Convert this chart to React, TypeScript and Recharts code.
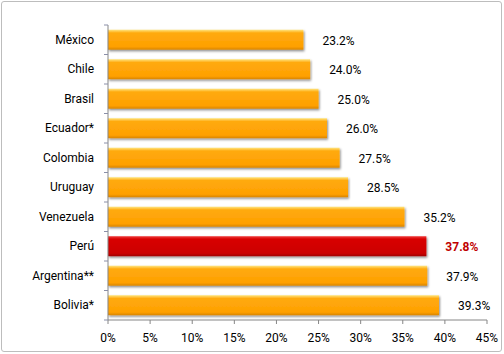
import React from "react";
import { BarChart, Bar, XAxis, YAxis, LabelList, Cell } from "recharts";

const countries = [
  "México",
  "Chile",
  "Brasil",
  "Ecuador*",
  "Colombia",
  "Uruguay",
  "Venezuela",
  "Perú",
  "Argentina**",
  "Bolivia*",
];
const rates = [23.2, 24.0, 25.0, 26.0, 27.5, 28.5, 35.2, 37.8, 37.9, 39.3];
const highlight = "Perú";
const xTicks = [0, 5, 10, 15, 20, 25, 30, 35, 40, 45];

const data = countries.map((name, i) => ({ name, value: rates[i] }));

const FONT = "'Liberation Sans Narrow', Roboto, sans-serif";
const BAND = 29.5;

const YTick = (props: any) => {
  const { x, y, payload, index } = props;
  // x here is the axis line minus the tick size; marks sit at category edges
  const ax = 108;
  return (
    <g>
      <line x1={ax - 4} x2={ax} y1={y - BAND / 2} y2={y - BAND / 2} stroke="#8a8fa8" />
      {index === countries.length - 1 && (
        <line x1={ax - 4} x2={ax} y1={y + BAND / 2} y2={y + BAND / 2} stroke="#8a8fa8" />
      )}
      <text x={x - 6} y={y} dy={4} textAnchor="end" fontSize={12} fill="#000" fontFamily={FONT}>
        {payload.value}
      </text>
    </g>
  );
};

const BarShape = (props: any) => {
  const { x, y, width, height, fill } = props;
  return <rect x={x} y={y} width={width} height={height} fill={fill} filter="url(#shadow)" />;
};

export default function App() {
  return (
    <div style={{ position: "absolute", left: 0, top: 0, width: 504, height: 354, background: "#fff" }}>
      <div
        style={{
          position: "absolute",
          left: 1,
          top: 1,
          width: 501,
          height: 351,
          border: "1px solid #bdbdbd",
          borderRadius: 3,
          boxSizing: "border-box",
        }}
      />
      <div style={{ position: "absolute", left: 0, top: 0 }}>
        <BarChart
          width={504}
          height={354}
          data={data}
          layout="vertical"
          barCategoryGap="16%"
          margin={{ top: 25, right: 17, left: 0, bottom: 4 }}
        >
          <defs>
            <linearGradient id="orange" x1="0" y1="0" x2="0" y2="1">
              <stop offset="0%" stopColor="#ffe680" />
              <stop offset="16%" stopColor="#ffaa10" />
              <stop offset="85%" stopColor="#ffa000" />
              <stop offset="100%" stopColor="#d98500" />
            </linearGradient>
            <linearGradient id="red" x1="0" y1="0" x2="0" y2="1">
              <stop offset="0%" stopColor="#f04040" />
              <stop offset="14%" stopColor="#d80000" />
              <stop offset="85%" stopColor="#cc0000" />
              <stop offset="100%" stopColor="#a00000" />
            </linearGradient>
            <filter id="shadow" x="-5%" y="-20%" width="110%" height="150%">
              <feDropShadow dx="1" dy="1.5" stdDeviation="0.8" floodColor="#000" floodOpacity="0.45" />
            </filter>
          </defs>
          <XAxis
            type="number"
            domain={[0, 45]}
            ticks={xTicks}
            tickFormatter={(v) => `${v}%`}
            height={30}
            axisLine={{ stroke: "#868686" }}
            tickLine={{ stroke: "#868686" }}
            tickSize={4}
            tickMargin={9}
            tick={{ fontSize: 12, fill: "#000", fontFamily: FONT }}
            interval={0}
          />
          <YAxis
            type="category"
            dataKey="name"
            width={108}
            axisLine={{ stroke: "#868686" }}
            tickLine={false}
            tick={<YTick />}
            interval={0}
          />
          <Bar dataKey="value" isAnimationActive={false} shape={<BarShape />}>
            {data.map((d) => (
              <Cell key={d.name} fill={d.name === highlight ? "url(#red)" : "url(#orange)"} />
            ))}
            <LabelList
              dataKey="value"
              position="right"
              content={(p: any) => {
                const isHi = data[p.index]?.name === highlight;
                return (
                  <text
                    x={p.x + p.width + 19}
                    y={p.y + p.height / 2}
                    dy={5}
                    fontSize={12}
                    fontFamily={FONT}
                    fontWeight={isHi ? "bold" : "normal"}
                    fill={isHi ? "#c00000" : "#000"}
                  >
                    {`${Number(p.value).toFixed(1)}%`}
                  </text>
                );
              }}
            />
          </Bar>
        </BarChart>
      </div>
    </div>
  );
}
